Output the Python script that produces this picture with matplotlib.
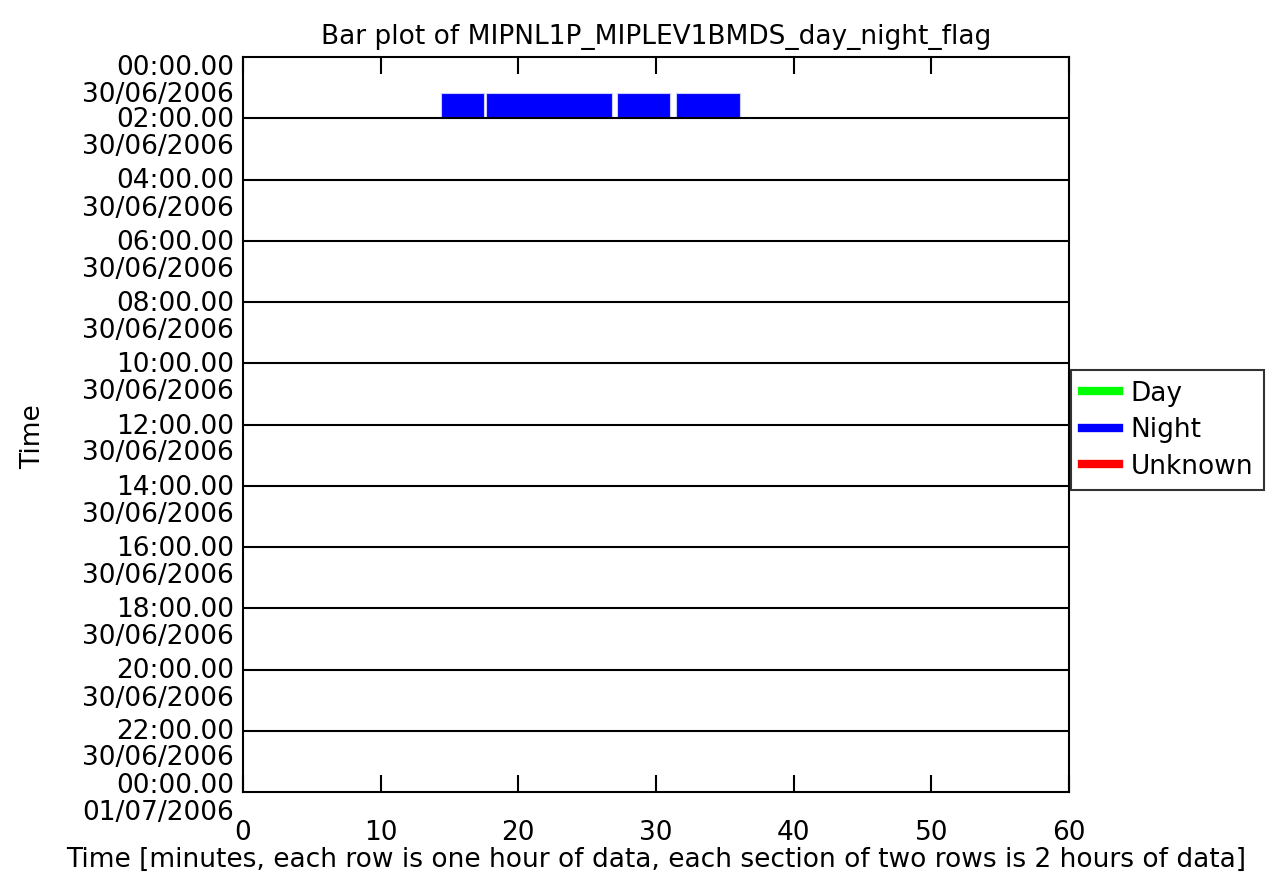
import matplotlib
matplotlib.use("Agg")
import matplotlib.pyplot as plt
from matplotlib.lines import Line2D

# segments of the day/night flag (minutes within the hour)
seg_hour = [1, 1, 1, 1]
seg_start = [14.38, 17.65, 27.14, 31.45]
seg_end = [17.5, 26.78, 31.05, 36.1]
seg_flag = ["Night", "Night", "Night", "Night"]

flag_names = ["Day", "Night", "Unknown"]
flag_colours = {"Day": "#00ff00", "Night": "#0000ff", "Unknown": "#ff0000"}

section_hours = [0, 2, 4, 6, 8, 10, 12, 14, 16, 18, 20, 22, 24]
section_times = ["00:00.00", "02:00.00", "04:00.00", "06:00.00", "08:00.00", "10:00.00",
                 "12:00.00", "14:00.00", "16:00.00", "18:00.00", "20:00.00", "22:00.00",
                 "00:00.00"]
section_dates = ["30/06/2006"] * 12 + ["01/07/2006"]

x_ticks = [0, 10, 20, 30, 40, 50, 60]

fs = 19
fig = plt.figure(figsize=(12.84, 8.75), dpi=100)
ax = fig.add_axes([243 / 1284, 1 - 792 / 875, 826 / 1284, 735 / 875])

# bars
for h, s, e, f in zip(seg_hour, seg_start, seg_end, seg_flag):
    ax.broken_barh([(s, e - s)], (h + 0.18, 0.82), facecolor=flag_colours[f],
                   edgecolor="#ccccff", linewidth=0.8)

# section lines
for h in section_hours[1:-1]:
    ax.axhline(h, color="black", linewidth=1.5)

ax.set_xlim(0, 60)
ax.set_ylim(24, 0)
ax.set_xticks(x_ticks)
ax.set_xticklabels([str(t) for t in x_ticks], fontsize=fs)
ax.tick_params(axis="x", direction="in", length=12, width=1.5, top=True, pad=20)
ax.set_yticks([])
for sp in ax.spines.values():
    sp.set_linewidth(1.5)

# y labels: time + date at each section boundary
n = len(section_hours)
for i, (h, t, d) in enumerate(zip(section_hours, section_times, section_dates)):
    if i == 0:
        o1, o2 = 11, 38
    elif i == n - 1:
        o1, o2 = -6, 21
    elif i == n - 2:
        o1, o2 = 1, 27
    else:
        o1, o2 = 2, 29
    ax.annotate(t, xy=(0, h), xycoords=ax.get_yaxis_transform(), xytext=(-9, -o1),
                textcoords="offset pixels", ha="right", va="center", fontsize=fs)
    ax.annotate(d, xy=(0, h), xycoords=ax.get_yaxis_transform(), xytext=(-9, -o2),
                textcoords="offset pixels", ha="right", va="center", fontsize=fs)

ax.set_title("Bar plot of MIPNL1P_MIPLEV1BMDS_day_night_flag", fontsize=fs, pad=9)
ax.set_xlabel("Time [minutes, each row is one hour of data, each section of two rows is 2 hours of data]",
              fontsize=fs, labelpad=1)
fig.text(33 / 1284, 1 - 437 / 875, "Time", rotation=90, ha="center", va="center", fontsize=fs)

handles = [Line2D([0], [0], color=flag_colours[n], linewidth=6) for n in flag_names]
leg = fig.legend(handles, flag_names, loc="upper left",
                 bbox_to_anchor=(1071 / 1284, 1 - 370 / 875), fontsize=fs,
                 frameon=True, fancybox=False, handlelength=1.4, handletextpad=0.45,
                 borderaxespad=0, borderpad=0.4, labelspacing=0.4)
leg.get_frame().set_edgecolor("black")
leg.get_frame().set_linewidth(1.5)

fig.savefig("out.png", dpi=100)
